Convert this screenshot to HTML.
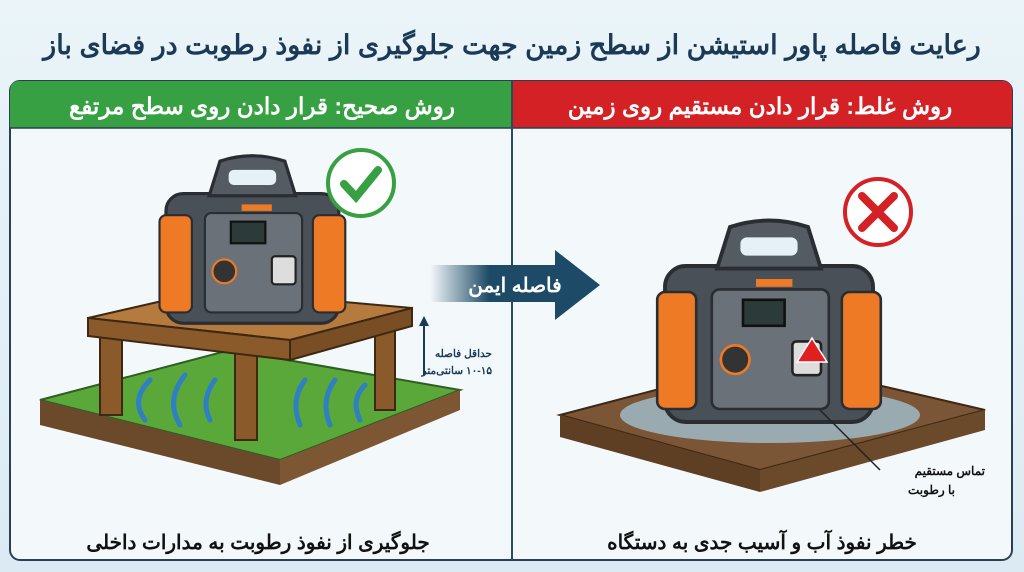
<!DOCTYPE html>
<html><head><meta charset="utf-8"><style>
html,body{margin:0;padding:0;width:1024px;height:572px;overflow:hidden;background:#e6f1f7}
svg{display:block}
text{font-family:"Liberation Sans","Noto Sans CJK SC",sans-serif;font-weight:bold}
</style></head><body>
<svg width="1024" height="572" viewBox="0 0 1024 572" xmlns="http://www.w3.org/2000/svg">
<defs>
<linearGradient id="bg" x1="0" y1="0" x2="0" y2="1"><stop offset="0" stop-color="#eaf4f9"/><stop offset="1" stop-color="#dcebf3"/></linearGradient>
<linearGradient id="ar" x1="0" y1="0" x2="1" y2="0"><stop offset="0" stop-color="#1d4a66" stop-opacity="0"/><stop offset="0.35" stop-color="#1d4a66"/><stop offset="1" stop-color="#1d4a66"/></linearGradient>
<g id="ps">
<rect x="0" y="20" width="160" height="120" rx="16" fill="#4a5058" stroke="#2a2e33" stroke-width="3"/>
<path d="M40 22 L50 -10 Q80 -20 110 -10 L120 22 Z" fill="#555b63" stroke="#2a2e33" stroke-width="3"/>
<rect x="58" y="-2" width="44" height="14" rx="5" fill="#e6f1f7"/>
<rect x="-6" y="40" width="30" height="90" rx="6" fill="#ee7a25" stroke="#2a2e33" stroke-width="2"/>
<rect x="136" y="40" width="30" height="90" rx="6" fill="#ee7a25" stroke="#2a2e33" stroke-width="2"/>
<rect x="36" y="38" width="90" height="92" rx="6" fill="#6b7178" stroke="#2a2e33" stroke-width="2"/>
<rect x="60" y="46" width="32" height="20" fill="#2d3a3a" stroke="#111" stroke-width="2"/>
<rect x="98" y="78" width="22" height="26" rx="3" fill="#ddd" stroke="#222" stroke-width="2"/>
<circle cx="54" cy="92" r="11" fill="#333" stroke="#ee7a25" stroke-width="2"/>
<rect x="70" y="30" width="28" height="6" fill="#ee7a25"/>
</g>
</defs>
<rect width="1024" height="572" fill="url(#bg)"/>
<text x="512" y="54" text-anchor="middle" font-size="27" fill="#1b3a57" direction="rtl">رعایت فاصله پاور استیشن از سطح زمین جهت جلوگیری از نفوذ رطوبت در فضای باز</text>
<rect x="10" y="81" width="1002" height="479" rx="10" fill="#f3f8fb" stroke="#2a3f52" stroke-width="2"/>
<path d="M10 128 V91 Q10 81 20 81 H512 V128 Z" fill="#36a043"/>
<path d="M512 81 H1002 Q1012 81 1012 91 V128 H512 Z" fill="#d32125"/>
<line x1="10" y1="128" x2="1012" y2="128" stroke="#2a3f52" stroke-width="1.5"/>
<line x1="512" y1="81" x2="512" y2="560" stroke="#2a4a5e" stroke-width="2"/>
<text x="262" y="114" text-anchor="middle" font-size="23" fill="#fff" direction="rtl">روش صحیح: قرار دادن روی سطح مرتفع</text>
<text x="760" y="114" text-anchor="middle" font-size="23" fill="#fff" direction="rtl">روش غلط: قرار دادن مستقیم روی زمین</text>
<path d="M40 400 L230 350 L460 390 L280 460 Z" fill="#5aa83a" stroke="#2f5e22" stroke-width="2"/>
<path d="M40 400 L280 460 L280 485 L40 425 Z" fill="#6b4a2c"/>
<path d="M280 460 L460 390 L460 410 L280 485 Z" fill="#7d5733"/>
<rect x="100" y="330" width="22" height="85" fill="#8b5a2b" stroke="#3d2814" stroke-width="2"/>
<rect x="235" y="345" width="22" height="95" fill="#8b5a2b" stroke="#3d2814" stroke-width="2"/>
<rect x="375" y="330" width="20" height="80" fill="#8b5a2b" stroke="#3d2814" stroke-width="2"/>
<path d="M88 318 L210 290 L412 308 L290 340 Z" fill="#b57a3e" stroke="#3d2814" stroke-width="2"/>
<path d="M88 318 L290 340 L290 360 L88 336 Z" fill="#8b5a2b" stroke="#3d2814" stroke-width="2"/>
<path d="M290 340 L412 308 L412 326 L290 360 Z" fill="#7a4e25" stroke="#3d2814" stroke-width="2"/>
<g fill="none" stroke="#2f7fc4" stroke-width="5" stroke-linecap="round">
<path d="M145 420 Q130 400 150 380"/><path d="M180 425 Q165 400 185 375"/><path d="M210 420 Q200 400 215 380"/>
<path d="M300 425 Q290 400 305 380"/><path d="M330 425 Q320 400 335 380"/><path d="M360 420 Q350 400 365 385"/>
</g>
<use href="#ps" transform="translate(166,172) scale(1.08)"/>
<circle cx="361" cy="183" r="33" fill="#fff" stroke="#36a043" stroke-width="4"/>
<path d="M344 184 L356 197 L378 170" fill="none" stroke="#36a043" stroke-width="8" stroke-linecap="round"/>
<line x1="424" y1="375" x2="424" y2="322" stroke="#1b3a57" stroke-width="2"/>
<path d="M419 326 L424 316 L429 326 Z" fill="#1b3a57"/>
<text x="492" y="357" text-anchor="start" font-size="10.5" fill="#1b3a57" direction="rtl">حداقل فاصله</text>
<text x="492" y="374" text-anchor="start" font-size="10.5" fill="#1b3a57" direction="rtl">۱۰-۱۵ سانتی‌متر</text>
<path d="M430 265 H555 V250 L600 285 L555 320 V302 H430 Z" fill="url(#ar)"/>
<text x="515" y="292" text-anchor="middle" font-size="20" fill="#fff" direction="rtl">فاصله ایمن</text>
<path d="M560 415 L770 360 L985 410 L760 470 Z" fill="#7a5636" stroke="#3d2814" stroke-width="2"/>
<path d="M560 415 L760 470 L760 492 L560 437 Z" fill="#5e3f24"/>
<path d="M760 470 L985 410 L985 430 L760 492 Z" fill="#6b4a2c"/>
<ellipse cx="770" cy="415" rx="150" ry="28" fill="#a8cfe6" opacity="0.7"/>
<use href="#ps" transform="translate(665,240) scale(1.3)"/>
<path d="M797 362 L812 338 L827 362 Z" fill="#e02020" stroke="#fff" stroke-width="1.5"/>
<circle cx="878" cy="212" r="33" fill="#fff" stroke="#d32125" stroke-width="4"/>
<path d="M862 196 L894 228 M894 196 L862 228" stroke="#d32125" stroke-width="8" stroke-linecap="round"/>
<line x1="820" y1="410" x2="880" y2="470" stroke="#222" stroke-width="1.5"/>
<text x="985" y="475" text-anchor="start" font-size="12" fill="#111" direction="rtl">تماس مستقیم</text>
<text x="955" y="494" text-anchor="start" font-size="12" fill="#111" direction="rtl">با رطوبت</text>
<text x="258" y="549" text-anchor="middle" font-size="20" fill="#111" direction="rtl">جلوگیری از نفوذ رطوبت به مدارات داخلی</text>
<text x="762" y="549" text-anchor="middle" font-size="20" fill="#111" direction="rtl">خطر نفوذ آب و آسیب جدی به دستگاه</text>
</svg>
</body></html>
